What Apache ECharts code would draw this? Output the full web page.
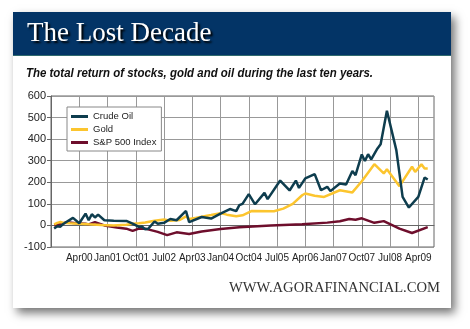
<!DOCTYPE html>
<html><head><meta charset="utf-8">
<script src="https://cdn.jsdelivr.net/npm/echarts@6/dist/echarts.min.js"></script>
<style>html,body{margin:0;padding:0;background:#fff}#c{width:470px;height:329px}</style>
</head><body><div id="c"></div>
<script>
const monthNames = ['Jan','Feb','Mar','Apr','May','Jun','Jul','Aug','Sep','Oct','Nov','Dec'];
const categories = [];
for (let i = 0; i < 123; i++) {
  const m = (6 + i) % 12, y = 1999 + Math.floor((6 + i) / 12);
  categories.push(monthNames[m] + String(y % 100).padStart(2, '0'));
}
const tickLabels = ['Apr00','Jan01','Oct01','Jul02','Apr03','Jan04','Oct04','Jul05','Apr06','Jan07','Oct07','Jul08','Apr09'];
const yTicks = [-100, 0, 100, 200, 300, 400, 500, 600];

const crudeOil = [
  ['Aug99',-14],['Sep99',-4],['Oct99',-6],['Nov99',8],['Feb00',35],['Apr00',10],['Jun00',55],['Jul00',24],
  ['Aug00',52],['Sep00',37],['Oct00',50],['Dec00',24],['Mar01',22],['Jul01',21],['Sep01',8],['Nov01',-7],
  ['Dec01',-5],['Jan02',-18],['Feb02',-15],['Apr02',18],['May02',8],['Jul02',12],['Sep02',30],['Nov02',24],
  ['Feb03',67],['Mar03',15],['Jul03',39],['Oct03',32],['Jan04',55],['Apr04',76],['Jun04',66],['Jul04',94],
  ['Aug04',100],['Oct04',145],['Dec04',98],['Mar05',151],['Apr05',122],['Aug05',208],['Nov05',162],['Jan06',208],
  ['Feb06',174],['Apr06',218],['Jul06',238],['Sep06',163],['Nov06',179],['Dec06',159],['Mar07',194],['May07',190],
  ['Jul07',252],['Aug07',233],['Oct07',329],['Nov07',299],['Dec07',330],['Jan08',306],['Mar08',357],['Apr08',376],
  ['Jun08',532],['Sep08',349],['Nov08',132],['Jan09',83],['Apr09',132],['Jun09',222],['Jul09',213]
];
const gold = [
  ['Aug99',5],['Sep99',12],['Oct99',16],['Nov99',12],['Jan00',10],['Apr00',8],['Jul00',5],['Nov00',2],
  ['Mar01',0],['Jul01',3],['Sep01',8],['Nov01',10],['Jan02',14],['Apr02',22],['Jul02',27],['Sep02',22],
  ['Dec02',25],['Feb03',42],['Mar03',30],['May03',35],['Jul03',40],['Oct03',48],['Jan04',57],['Mar04',50],
  ['Jun04',43],['Aug04',47],['Nov04',67],['Jun05',66],['Sep05',78],['Dec05',100],['Mar06',140],['Apr06',148],
  ['Jul06',138],['Oct06',132],['Mar07',163],['Jul07',153],['Oct07',205],['Feb08',284],['May08',241],['Jun08',260],
  ['Oct08',182],['Feb09',272],['Mar09',248],['May09',284],['Jun09',264],['Jul09',264]
];
const sp500 = [
  ['Aug99',0],['Oct99',5],['Dec99',15],['Mar00',10],['Jun00',8],['Jul00',5],['Sep00',15],['Dec00',0],
  ['Apr01',-10],['Jul01',-15],['Sep01',-25],['Nov01',-15],['Jan02',-15],['May02',-30],['Aug02',-45],['Nov02',-32],
  ['Mar03',-40],['Jul03',-28],['Jan04',-17],['Jul04',-8],['May05',0],['Mar06',6],['Nov06',13],['Mar07',19],
  ['Jun07',30],['Aug07',26],['Oct07',33],['Feb08',12],['May08',20],['Oct08',-15],['Feb09',-35],['Jul09',-8]
];

const chart = echarts.init(document.getElementById('c'), null, {renderer: 'canvas'});
const showIdx = (i) => tickLabels.includes(categories[i]);
chart.setOption({
  animation: false,
  backgroundColor: '#fff',
  graphic: [
    {type: 'rect', shape: {x: 13, y: 12, width: 438, height: 296}, z: -10,
     style: {fill: '#fff', shadowBlur: 9, shadowOffsetX: 4, shadowOffsetY: 5, shadowColor: 'rgba(0,0,0,0.55)'}},
    {type: 'rect', shape: {x: 13, y: 12, width: 438, height: 44}, z: -5, style: {fill: '#033466'}},
    {type: 'rect', shape: {x: 13, y: 55, width: 438, height: 1}, z: -4, style: {fill: '#2f6a6e'}},
    {type: 'text', x: 27, y: 34, z: 5, style: {text: 'The Lost Decade', fill: '#fff', font: '27px "Liberation Serif"',
      verticalAlign: 'middle', textShadowColor: '#000', textShadowBlur: 2, textShadowOffsetX: 2, textShadowOffsetY: 2}},
    {type: 'text', x: 26, y: 74, z: 5, scaleX: 0.955, style: {text: 'The total return of stocks, gold and oil during the last ten years.',
      fill: '#111', font: 'italic bold 12px "Liberation Sans"', verticalAlign: 'middle'}},
    {type: 'text', x: 440, y: 288, z: 5, style: {text: 'WWW.AGORAFINANCIAL.COM', fill: '#333',
      font: '14.6px "Liberation Serif"', align: 'right', verticalAlign: 'middle'}}
  ],
  legend: {
    orient: 'vertical', left: 67, top: 107, backgroundColor: '#fff',
    borderColor: '#888', borderWidth: 1, padding: [3, 5, 2, 4], itemGap: 0,
    itemWidth: 17, itemHeight: 3, icon: 'rect',
    textStyle: {fontSize: 9.5, color: '#222', fontFamily: 'Liberation Sans', lineHeight: 13},
    data: ['Crude Oil', 'Gold', 'S&P 500 Index']
  },
  grid: {left: 51, top: 96, right: 36, bottom: 82, show: true, borderColor: '#666', borderWidth: 1},
  xAxis: {
    type: 'category', data: categories, boundaryGap: false,
    axisLine: {lineStyle: {color: '#666'}},
    axisTick: {show: true, length: 4, interval: showIdx, lineStyle: {color: '#666'}},
    axisLabel: {interval: showIdx, fontSize: 10, color: '#222', fontFamily: 'Liberation Sans', margin: 6},
    splitLine: {show: true, interval: showIdx, lineStyle: {color: '#999', width: 1}}
  },
  yAxis: {
    type: 'value', min: yTicks[0], max: yTicks[yTicks.length - 1], interval: 100,
    axisLine: {show: true, lineStyle: {color: '#666'}},
    axisTick: {show: true, length: 4, lineStyle: {color: '#666'}},
    axisLabel: {fontSize: 11, color: '#222', fontFamily: 'Liberation Sans', margin: 5},
    splitLine: {show: true, lineStyle: {color: '#999', width: 1}}
  },
  series: [
    {name: 'S&P 500 Index', type: 'line', data: sp500, symbol: 'none', color: '#6e0e2c', lineStyle: {width: 2.5}, z: 2},
    {name: 'Gold', type: 'line', data: gold, symbol: 'none', color: '#fcc52e', lineStyle: {width: 2.5}, z: 3},
    {name: 'Crude Oil', type: 'line', data: crudeOil, symbol: 'none', color: '#0e3d4e', lineStyle: {width: 2.5}, z: 4}
  ]
});
</script></body></html>
